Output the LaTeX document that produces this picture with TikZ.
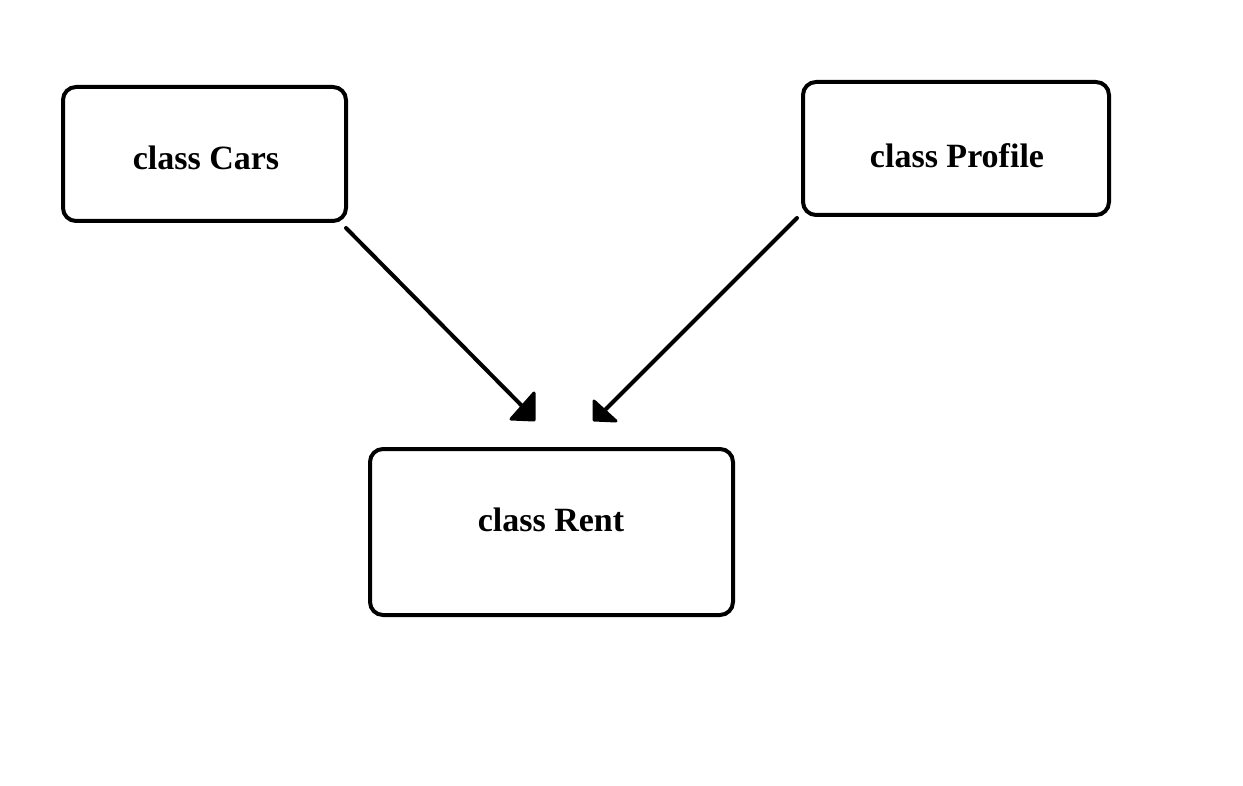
\documentclass[tikz,border=0pt]{standalone}
\usepackage{fontspec}
\setmainfont{Liberation Serif}
\begin{document}
\begin{tikzpicture}[x=1pt,y=-1pt,
  classbox/.style={draw=black,line width=4pt,rounded corners=13pt,fill=white},
  lbl/.style={font=\fontsize{34}{40}\selectfont\bfseries,text=black},
  conn/.style={line width=4pt,line cap=round},
  headfill/.style={fill=black,draw=black,line width=3pt,line join=round}]
\useasboundingbox (0,0) rectangle (1243,786);
\fill[white] (0,0) rectangle (1243,786);
% boxes
\draw[classbox] (63,87) rectangle (346,221);
\draw[classbox] (803,82) rectangle (1109,215);
\draw[classbox] (370,449) rectangle (733,615);
\node[lbl] (cars) at (206,158) {class Cars};
\node[lbl] (profile) at (957,156) {class Profile};
\node[lbl] (rent) at (551,520) {class Rent};
% connector endpoints
\coordinate (c1) at (346,228);
\coordinate (c2) at (526,410);
\coordinate (p1) at (797,218);
\coordinate (p2) at (602,413);
\draw[conn] (c1) -- (c2);
\draw[conn] (p1) -- (p2);
% arrow heads
\draw[headfill] (511,419) -- (534,420) -- (534,393) -- cycle;
\draw[headfill] (594,401) -- (594,420) -- (616,421) -- cycle;
\end{tikzpicture}
\end{document}
